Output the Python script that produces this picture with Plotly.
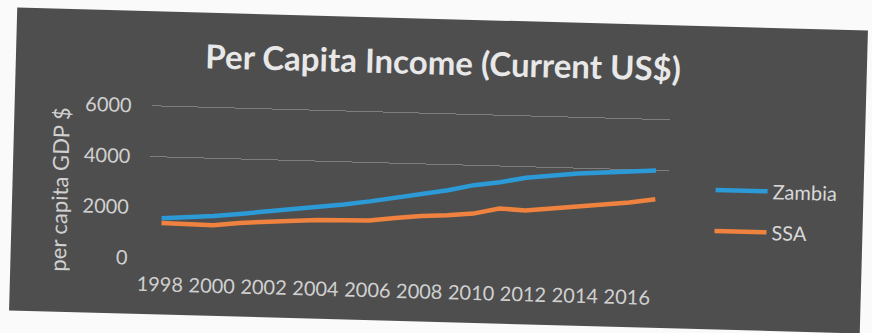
import plotly.graph_objects as go

# GDP per capita, current US$
years = [str(y) for y in range(1998, 2018)]
zambia = [1590, 1640, 1730, 1840, 1950, 2060, 2190, 2320, 2470, 2630,
          2820, 2990, 3220, 3360, 3570, 3700, 3790, 3860, 3930, 3990]
ssa = [1400, 1375, 1365, 1485, 1550, 1620, 1680, 1695, 1715, 1840,
       1950, 2010, 2100, 2330, 2280, 2380, 2490, 2610, 2700, 2860]
year_ticks = [str(y) for y in range(1998, 2017, 2)]
value_ticks = [0, 2000, 4000, 6000]

BG = "#4e4e4e"
FONT = "Lato"
BLUE = "#2b9ad6"
ORANGE = "#f0823f"
# a little headroom so the 6000 gridline is not clipped at the plot edge
Y_RANGE = [0, 6100]

fig = go.Figure()
fig.add_trace(go.Scatter(x=years, y=zambia, mode="lines", name="Zambia",
                         legendgroup="zambia",
                         line=dict(color=BLUE, width=4.5)))
fig.add_trace(go.Scatter(x=years, y=ssa, mode="lines", name="SSA",
                         legendgroup="ssa",
                         line=dict(color=ORANGE, width=4.5)))

fig.update_layout(
    width=851, height=303,
    margin=dict(l=137, r=195, t=92, b=56),
    paper_bgcolor=BG, plot_bgcolor=BG,
    font=dict(family=FONT, color="#d2d2d2"),
    title=dict(text="Per Capita Income (Current US$)",
               font=dict(family=FONT, size=33, color="#e8e8e8", weight=700),
               x=0.502, xanchor="center", yref="container", y=0.855,
               yanchor="middle"),
    xaxis=dict(type="category", categoryorder="array", categoryarray=years,
               range=[-0.5, 19.5], tickmode="array", tickvals=year_ticks,
               showgrid=False, showline=False, zeroline=False, ticks="",
               tickfont=dict(family=FONT, size=20, color="#d0d0d0"),
               ticklabelstandoff=12),
    # gridlines only at the upper two levels
    yaxis=dict(range=Y_RANGE, tickmode="array", tickvals=[4000, 6000],
               showticklabels=False, showgrid=True, gridcolor="#7e7e7e",
               gridwidth=1.3, zeroline=False, showline=False, ticks=""),
    # value labels
    yaxis2=dict(overlaying="y", side="left", range=Y_RANGE,
                tickmode="array", tickvals=value_ticks, showgrid=False,
                zeroline=False, showline=False, ticks="",
                tickfont=dict(family=FONT, size=20, color="#d0d0d0"),
                ticklabelstandoff=19),
    legend=dict(x=1.081, xanchor="left", y=0.665, yanchor="top",
                bgcolor="rgba(0,0,0,0)", itemwidth=52, tracegroupgap=12,
                font=dict(family=FONT, size=20, color="#d8d8d8")),
    annotations=[dict(text="per capita GDP $", textangle=-90,
                      xref="paper", yref="paper", x=-0.174, y=0.425,
                      xanchor="center", yanchor="middle", showarrow=False,
                      font=dict(family=FONT, size=22, color="#d0d0d0"))],
    showlegend=True,
)
# an invisible trace so the label axis is drawn
fig.add_trace(go.Scatter(x=[years[0]], y=[0], yaxis="y2", mode="markers",
                         marker=dict(opacity=0), showlegend=False,
                         hoverinfo="skip"))

# the chart sits slightly tilted on a white sheet
post = """
var gd = document.getElementById('{plot_id}');
document.body.style.margin = '0';
document.body.style.background = '#fafafa';
document.body.style.overflow = 'hidden';
gd.style.position = 'absolute';
gd.style.left = '12.5px';
gd.style.top = '18.5px';
gd.style.transformOrigin = 'center center';
gd.style.transform = 'rotate(1.55deg)';
"""
fig.write_html("out.html", post_script=post)
